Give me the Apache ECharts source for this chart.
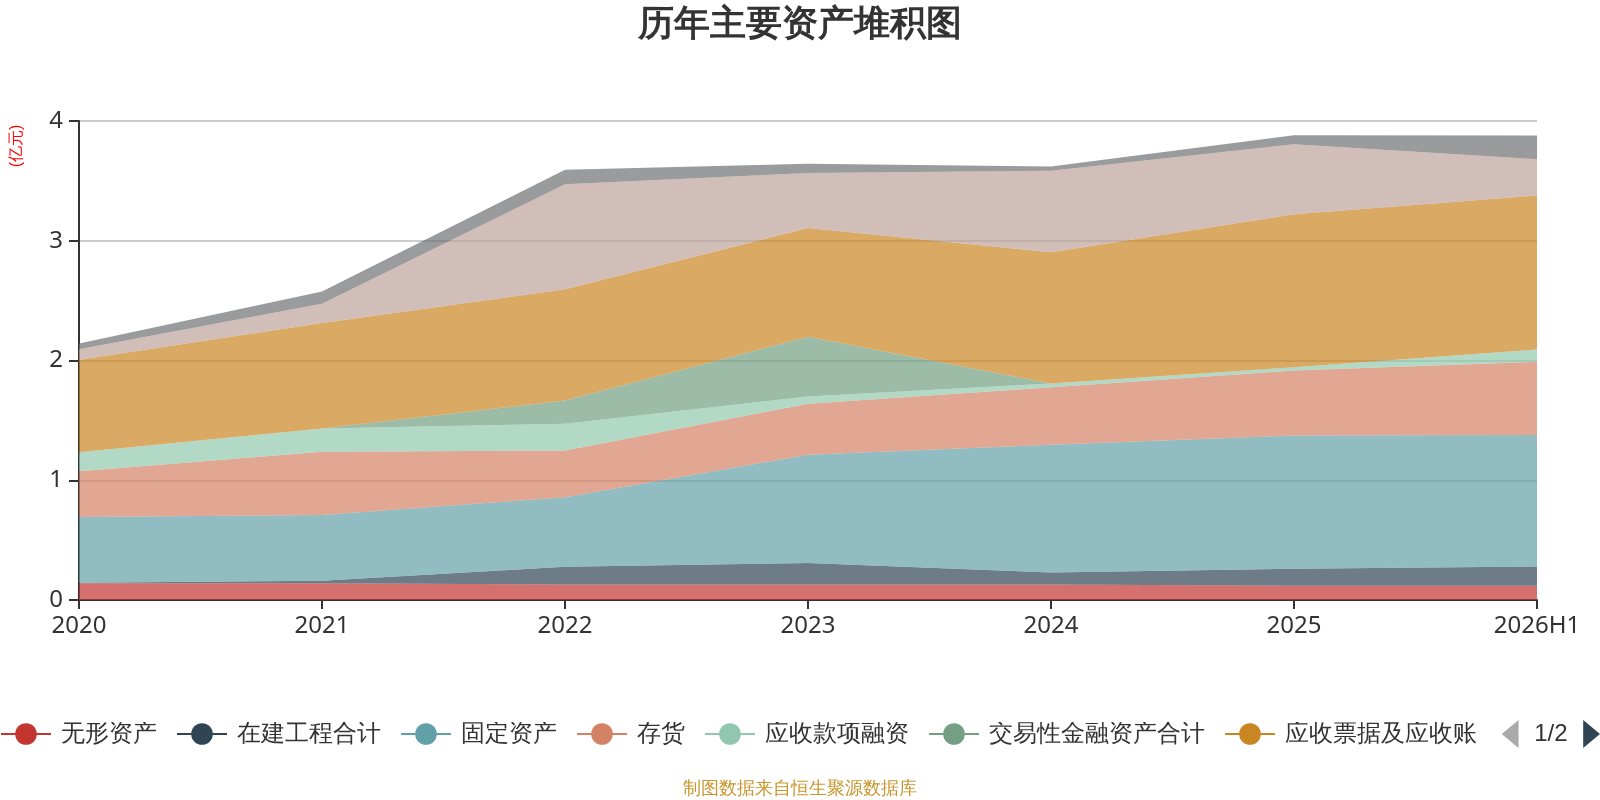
<!DOCTYPE html>
<html>
<head>
<meta charset="utf-8">
<title>历年主要资产堆积图</title>
<script src="https://cdn.jsdelivr.net/npm/echarts@6/dist/echarts.min.js"></script>
<style>
    html, body { margin: 0; padding: 0; background: #fff; }
    #main { width: 1600px; height: 800px; }
</style>
</head>
<body>
<div id="main"></div>
<script>
// 年份
var years = ['2020', '2021', '2022', '2023', '2024', '2025', '2026H1'];

// 各项资产（亿元）
var wuxing = [0.14, 0.14, 0.13, 0.13, 0.13, 0.12, 0.12];
var zaijian = [0.005, 0.02, 0.147, 0.18, 0.10, 0.14, 0.16];
var guding = [0.548, 0.55, 0.58, 0.903, 1.067, 1.114, 1.098];
var cunhuo = [0.383, 0.528, 0.392, 0.425, 0.48, 0.542, 0.611];
var yingshouRongzi = [0.158, 0.195, 0.222, 0.061, 0.03, 0.027, 0.102];
var jiaoyixing = [0, 0, 0.195, 0.5, 0, 0, 0];
var yingshouPiaoju = [0.773, 0.88, 0.93, 0.908, 1.097, 1.278, 1.287];
var huobi = [0.086, 0.161, 0.875, 0.459, 0.68, 0.584, 0.302];
var qita = [0.05, 0.103, 0.122, 0.077, 0.036, 0.077, 0.198];

var seriesNames = ['无形资产', '在建工程合计', '固定资产', '存货', '应收款项融资',
    '交易性金融资产合计', '应收票据及应收账', '货币资金', '其他资产'];
var seriesData = [wuxing, zaijian, guding, cunhuo, yingshouRongzi,
    jiaoyixing, yingshouPiaoju, huobi, qita];

var colors = ['#c23531', '#2f4554', '#61a0a8', '#d48265', '#91c7ae',
    '#749f83', '#ca8622', '#bda29a', '#6e7074'];

var series = [];
for (var i = 0; i < seriesNames.length; i++) {
    series.push({
        name: seriesNames[i],
        type: 'line',
        stack: 'total',
        symbol: 'circle',
        showSymbol: false,
        lineStyle: { width: 0 },
        areaStyle: { opacity: 0.7 },
        data: seriesData[i]
    });
}

var chart = echarts.init(document.getElementById('main'));
chart.setOption({
    animation: false,
    color: colors,
    title: {
        text: '历年主要资产堆积图',
        left: 'center',
        top: 7,
        padding: 0,
        textStyle: { fontSize: 36, fontWeight: 'bold', color: '#333' }
    },
    grid: { left: 79, right: 63, top: 121, bottom: 200 },
    legend: {
        type: 'scroll',
        left: 0,
        right: 0,
        top: 720,
        padding: 0,
        itemGap: 19,
        itemWidth: 50,
        itemHeight: 27,
        lineStyle: { width: 2 },
        textStyle: { fontSize: 24, color: '#333', padding: [0, 0, 0, 5] },
        pageIconColor: '#2f4554',
        pageIconInactiveColor: '#aaa',
        pageIconSize: [18, 28],
        pageTextStyle: { fontSize: 24, color: '#333' },
        data: seriesNames
    },
    xAxis: {
        type: 'category',
        boundaryGap: false,
        data: years,
        axisLine: { lineStyle: { color: '#333', width: 2 } },
        axisTick: { length: 9, lineStyle: { width: 2 } },
        axisLabel: { fontSize: 24, color: '#333', margin: 14, fontFamily: 'Noto Sans' },
        splitLine: { show: false }
    },
    yAxis: {
        type: 'value',
        min: 0,
        max: 4,
        interval: 1,
        axisLine: { show: true, lineStyle: { color: '#333', width: 2 } },
        axisTick: { show: true, length: 10, lineStyle: { width: 2 } },
        axisLabel: { fontSize: 24, color: '#333', margin: 16, fontFamily: 'Noto Sans' },
        splitLine: { lineStyle: { color: '#ccc', width: 2 } }
    },
    graphic: [
        {
            type: 'text',
            x: 17,
            y: 146,
            rotation: Math.PI / 2,
            style: {
                text: '(亿元)',
                fill: '#ff0000',
                fontSize: 16,
                textAlign: 'center',
                textVerticalAlign: 'middle'
            }
        },
        {
            type: 'text',
            x: 800,
            y: 789,
            style: {
                text: '制图数据来自恒生聚源数据库',
                fill: '#c8962d',
                fontSize: 18,
                textAlign: 'center',
                textVerticalAlign: 'middle'
            }
        }
    ],
    series: series
});
</script>
</body>
</html>
